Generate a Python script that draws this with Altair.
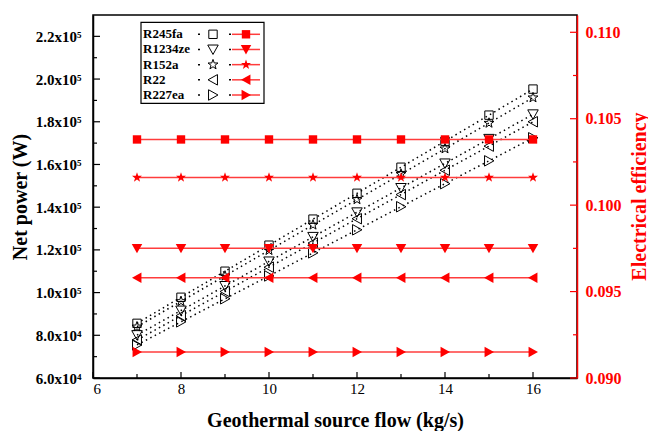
import altair as alt
import pandas as pd

# Geothermal source mass flow (kg/s)
flow = [7, 8, 9, 10, 11, 12, 13, 14, 15, 16]
fluids = ["R245fa", "R1234ze", "R152a", "R22", "R227ea"]

# Net power output (W) for each working fluid
power_r245fa = [85600, 97800, 110000, 122200, 134400, 146500, 158700, 170900, 183100, 195300]
power_r1234ze = [80100, 91600, 103100, 114600, 126100, 137600, 149000, 160500, 172000, 183500]
power_r152a = [84000, 95900, 107800, 119800, 131700, 143600, 155500, 167400, 179400, 191300]
power_r22 = [77800, 89200, 100500, 111900, 123200, 134600, 145900, 157300, 168600, 180000]
power_r227ea = [75500, 86300, 97100, 107800, 118600, 129400, 140200, 151000, 161700, 172500]

# Electrical efficiency (constant over the flow range)
eff_r245fa = 0.1038
eff_r1234ze = 0.0975
eff_r152a = 0.1016
eff_r22 = 0.0958
eff_r227ea = 0.0915

# Axis ticks
x_major = [6, 8, 10, 12, 14, 16]
x_minor = [7, 9, 11, 13, 15]
left_major = [60000, 80000, 100000, 120000, 140000, 160000, 180000, 200000, 220000]
left_minor = [70000, 90000, 110000, 130000, 150000, 170000, 190000, 210000]
right_major = [0.090, 0.095, 0.100, 0.105, 0.110]
right_minor = [0.0925, 0.0975, 0.1025, 0.1075]

powers = {
    "R245fa": power_r245fa,
    "R1234ze": power_r1234ze,
    "R152a": power_r152a,
    "R22": power_r22,
    "R227ea": power_r227ea,
}
effs = {
    "R245fa": eff_r245fa,
    "R1234ze": eff_r1234ze,
    "R152a": eff_r152a,
    "R22": eff_r22,
    "R227ea": eff_r227ea,
}

# Marker outlines in unit coordinates
shape_paths = [
    "M-0.8,-0.8L0.8,-0.8L0.8,0.8L-0.8,0.8Z",  # square
    "M-1,-0.85L1,-0.85L0,0.95Z",  # down triangle
    "M0,-1L0.235,-0.324L0.951,-0.309L0.380,0.124L0.588,0.809L0,0.4"
    "L-0.588,0.809L-0.380,0.124L-0.951,-0.309L-0.235,-0.324Z",  # star
    "M-0.95,0L0.85,-1L0.85,1Z",  # left triangle
    "M0.95,0L-0.85,-1L-0.85,1Z",  # right triangle
]

power_df = pd.DataFrame(
    [{"flow": f, "fluid": n, "v": p} for n in fluids for f, p in zip(flow, powers[n])]
)
eff_df = pd.DataFrame(
    [{"flow": f, "fluid": n, "v": effs[n]} for n in fluids for f in flow]
)

FONT = "Liberation Serif"
RED = "#ff0000"
RED_LINE = "#ff3c3c"

shape_enc = alt.Shape(
    "fluid:N", scale=alt.Scale(domain=fluids, range=shape_paths), legend=None
)

x_scale = alt.Scale(domain=[6, 17], nice=False, zero=False)
x_axis = alt.Axis(
    values=x_major, ticks=False, labelFont=FONT, titleFont=FONT,
    labelFontSize=15, labelFontWeight="normal",
    labelPadding=3, titleFontSize=20, titleFontWeight="bold", titlePadding=14,
    domainColor="black", domainWidth=1.5, labelColor="black", titleColor="black",
)


def xenc(field="flow"):
    return alt.X(f"{field}:Q", scale=x_scale, axis=x_axis,
                 title="Geothermal source flow (kg/s)")


left_scale = alt.Scale(domain=[60000, 230000], nice=False, zero=False)
left_axis = alt.Axis(
    values=left_major, ticks=False, labelFont=FONT, titleFont=FONT,
    labelExpr="datum.value >= 100000 ? format(datum.value / 100000, '.1f') + 'x10⁵'"
              " : format(datum.value / 10000, '.1f') + 'x10⁴'",
    labelFontSize=15, labelFontWeight="bold", labelPadding=12, labelColor="black",
    titleFontSize=20, titleFontWeight="bold", titlePadding=5, titleColor="black",
    domainColor="black", domainWidth=1.5,
)


def lenc(field="v"):
    return alt.Y(f"{field}:Q", scale=left_scale, axis=left_axis, title="Net power (W)")


right_scale = alt.Scale(domain=[0.090, 0.111], nice=False, zero=False)
right_axis = alt.Axis(
    orient="right", values=right_major, ticks=False, format=".3f",
    labelFont=FONT, titleFont=FONT,
    labelFontSize=16, labelFontWeight="bold", labelPadding=8, labelColor=RED,
    titleFontSize=20, titleFontWeight="bold", titleColor=RED,
    titleAngle=270, titleX=62, titleY=181, titleAlign="center", titleBaseline="middle",
    domainColor=RED, domainWidth=1.5,
)


def renc(field="v"):
    return alt.Y(f"{field}:Q", scale=right_scale, axis=right_axis,
                 title="Electrical efficiency")


def tick_df(values):
    return pd.DataFrame({"v": values})


# --- Net power (left axis): dotted black lines with hollow markers
power_lines = alt.Chart(power_df).mark_line(
    color="black", strokeWidth=1.5, strokeDash=[1.5, 3.5]
).encode(x=xenc(), y=lenc(), detail="fluid:N")
power_pts = alt.Chart(power_df).mark_point(
    filled=False, color="black", strokeWidth=1, size=110, opacity=1
).encode(x=xenc(), y=lenc(), shape=shape_enc)

left_ticks_major = alt.Chart(tick_df(left_major)).mark_rule(color="black", strokeWidth=1.2).encode(
    y=lenc(), x=alt.value(0), x2=alt.value(7))
left_ticks_minor = alt.Chart(tick_df(left_minor)).mark_rule(color="black", strokeWidth=1.2).encode(
    y=lenc(), x=alt.value(0), x2=alt.value(4))
x_ticks_major = alt.Chart(tick_df(x_major)).mark_rule(color="black", strokeWidth=1.2).encode(
    x=xenc("v"), y=alt.value(363), y2=alt.value(357))
x_ticks_minor = alt.Chart(tick_df(x_minor)).mark_rule(color="black", strokeWidth=1.2).encode(
    x=xenc("v"), y=alt.value(363), y2=alt.value(359))

left_group = alt.layer(
    left_ticks_major, left_ticks_minor, x_ticks_major, x_ticks_minor,
    power_lines, power_pts,
)

# --- Electrical efficiency (right axis): solid red lines with filled markers
eff_lines = alt.Chart(eff_df).mark_line(color=RED_LINE, strokeWidth=1.5).encode(
    x=xenc(), y=renc(), detail="fluid:N")
eff_pts = alt.Chart(eff_df).mark_point(
    filled=True, color=RED, size=110, opacity=1
).encode(x=xenc(), y=renc(), shape=shape_enc)

right_ticks_major = alt.Chart(tick_df(right_major)).mark_rule(color=RED, strokeWidth=1.2).encode(
    y=renc(), x=alt.value(484), x2=alt.value(477))
right_ticks_minor = alt.Chart(tick_df(right_minor)).mark_rule(color=RED, strokeWidth=1.2).encode(
    y=renc(), x=alt.value(484), x2=alt.value(480))

right_group = alt.layer(right_ticks_major, right_ticks_minor, eff_lines, eff_pts)

# --- Legend: name, dotted power sample, solid efficiency sample
legend_df = pd.DataFrame({"fluid": fluids})
row_y = alt.Y("fluid:N", sort=fluids, axis=None,
              scale=alt.Scale(type="point", range=[19.3, 80], padding=0))

legend_box = alt.Chart(pd.DataFrame({"k": [0]})).mark_rect(
    fill="white", stroke="black", strokeWidth=1.2
).encode(x=alt.value(48), x2=alt.value(171), y=alt.value(7.3), y2=alt.value(88.3))
legend_text = alt.Chart(legend_df).mark_text(
    align="left", baseline="middle", font=FONT, fontWeight="bold", fontSize=13, color="black"
).encode(x=alt.value(50), y=row_y, text="fluid:N")
legend_dots = alt.Chart(legend_df).mark_rule(
    color="black", strokeWidth=1.5, strokeDash=[2, 29]
).encode(x=alt.value(105), x2=alt.value(138), y=row_y)
legend_hollow = alt.Chart(legend_df).mark_point(
    filled=False, color="black", strokeWidth=1, size=110, opacity=1
).encode(x=alt.value(120), y=row_y, shape=shape_enc)
legend_line = alt.Chart(legend_df).mark_rule(color=RED_LINE, strokeWidth=1.5).encode(
    x=alt.value(139), x2=alt.value(167), y=row_y)
legend_filled = alt.Chart(legend_df).mark_point(
    filled=True, color=RED, size=110, opacity=1
).encode(x=alt.value(153), y=row_y, shape=shape_enc)

legend_group = alt.layer(
    legend_box, legend_text, legend_dots, legend_hollow, legend_line, legend_filled
)

chart = (
    alt.layer(left_group, right_group, legend_group)
    .resolve_scale(y="independent")
    .properties(
        width=484,
        height=363,
        background="white",
        autosize=alt.AutoSizeParams(type="none"),
        padding={"left": 93, "top": 15, "right": 71, "bottom": 53},
    )
    .configure_view(stroke="black", strokeWidth=1.5)
    .configure_axis(grid=False, labelFont=FONT, titleFont=FONT)
)

chart.save("out.html", embed_options={"renderer": "svg", "actions": False})
